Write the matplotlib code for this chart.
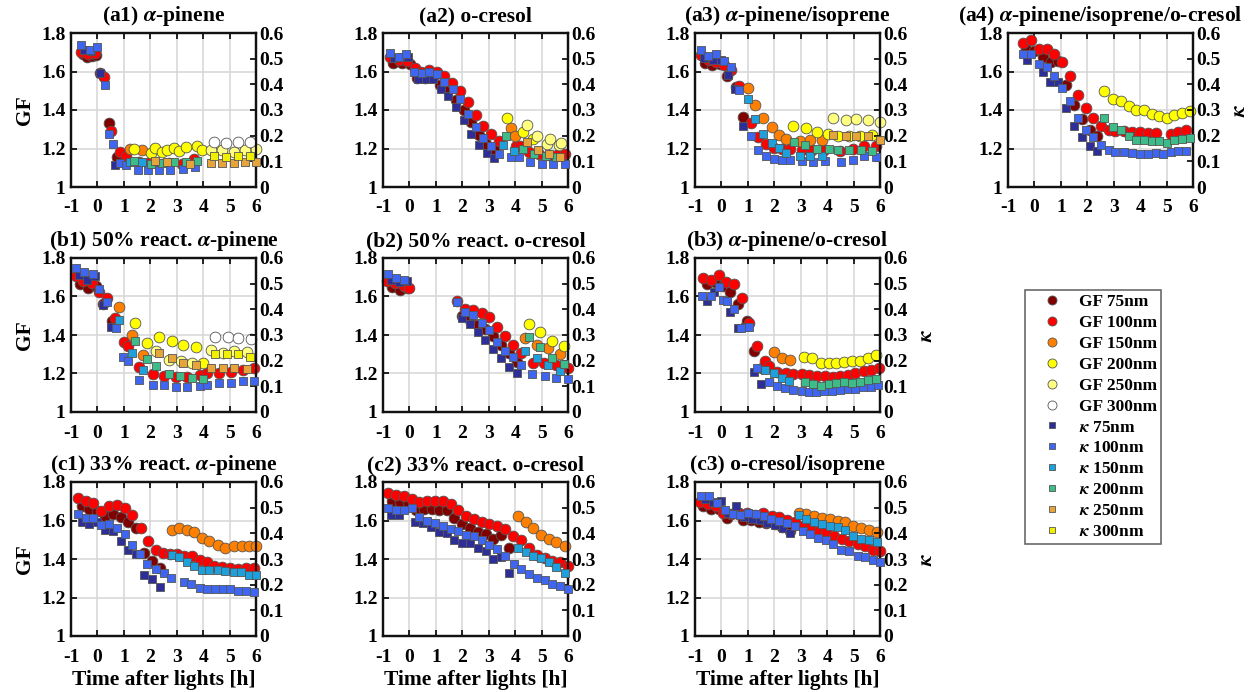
import matplotlib
matplotlib.use("Agg")
import matplotlib.pyplot as plt
from matplotlib.lines import Line2D

plt.rcParams["font.family"] = "serif"
plt.rcParams["font.serif"] = ["Liberation Serif", "DejaVu Serif"]
plt.rcParams["font.weight"] = "bold"
plt.rcParams["mathtext.fontset"] = "stix"
plt.rcParams["axes.unicode_minus"] = False

# ---- data: each series is (time [h], value); GF on left axis, kappa on right ----
A1 = {
    "GF75": ([-0.55, -0.4, -0.2, -0.05, 0.1, 0.42, 0.74],
             [1.69, 1.675, 1.68, 1.685, 1.59, 1.335, 1.155]),
    "GF100": ([-0.62, -0.35, -0.1, 0.25, 0.51, 0.86, 1.09, 1.56, 1.9, 2.3, 2.7, 3.2, 3.65],
              [1.70, 1.69, 1.695, 1.57, 1.29, 1.18, 1.163, 1.13, 1.125, 1.12, 1.125, 1.12, 1.146]),
    "GF150": ([1.24, 1.69], [1.198, 1.194]),
    "GF200": ([1.39, 2.03, 2.19, 2.45, 2.64, 2.89, 3.08, 3.37, 3.78, 3.97],
              [1.198, 1.177, 1.203, 1.18, 1.194, 1.205, 1.187, 1.21, 1.215, 1.19]),
    "GF250": ([4.29, 4.73, 5.17, 5.6, 6.0], [1.19, 1.19, 1.184, 1.19, 1.198]),
    "GF300": ([4.42, 4.88, 5.3, 5.77], [1.232, 1.229, 1.236, 1.236]),
    "K75": ([-0.5, -0.25, 0.1, 0.67], [0.535, 0.53, 0.443, 0.087]),
    "K100": ([-0.63, -0.28, -0.02, 0.27, 0.42, 0.58, 0.86, 1.09, 1.53, 1.9, 2.33, 2.76, 3.22, 3.68],
             [0.555, 0.535, 0.545, 0.397, 0.206, 0.168, 0.093, 0.084, 0.065, 0.068, 0.067, 0.068, 0.071, 0.077]),
    "K150": ([1.24, 1.69], [0.099, 0.099]),
    "K200": ([1.39, 2.03, 2.45, 2.89, 3.37, 3.78], [0.1, 0.088, 0.093, 0.099, 0.097, 0.103]),
    "K250": ([2.19, 2.64, 3.5, 4.29, 4.73, 5.17, 5.6, 6.0],
             [0.1, 0.097, 0.088, 0.093, 0.093, 0.094, 0.097, 0.099]),
    "K300": ([4.42, 4.88, 5.3, 5.77], [0.12, 0.115, 0.12, 0.119]),
}

A2 = {
    "GF75": ([-0.63, -0.29, 0.03, 0.28, 0.59, 0.9, 1.15, 1.46, 1.75, 2.05, 2.34, 2.63, 2.9, 3.21],
             [1.644, 1.644, 1.64, 1.566, 1.566, 1.57, 1.53, 1.506, 1.454, 1.40, 1.336, 1.27, 1.225, 1.197]),
    "GF100": ([-0.73, -0.41, -0.1, 0.2, 0.45, 0.74, 1.03, 1.3, 1.61, 1.9, 2.21, 2.5, 2.8, 3.09, 3.4,
               4.05, 4.19, 4.53, 4.9, 5.28, 5.6, 5.88],
              [1.675, 1.66, 1.655, 1.62, 1.595, 1.61, 1.60, 1.578, 1.54, 1.50, 1.44, 1.376, 1.319, 1.275, 1.237,
               1.215, 1.215, 1.18, 1.173, 1.166, 1.168, 1.17]),
    "GF150": ([3.85, 4.0], [1.305, 1.265]),
    "GF200": ([3.71, 4.28, 4.66], [1.358, 1.284, 1.249]),
    "GF250": ([4.43, 4.84, 5.2, 5.3, 5.65, 5.75], [1.324, 1.267, 1.225, 1.25, 1.22, 1.23]),
    "K75": ([-0.58, -0.3, -0.04, 0.34, 0.61, 0.88, 1.18, 1.45, 1.75, 2.05, 2.34, 2.63, 2.93, 3.21],
            [0.503, 0.505, 0.507, 0.42, 0.42, 0.42, 0.382, 0.356, 0.312, 0.262, 0.208, 0.165, 0.132, 0.113]),
    "K100": ([-0.73, -0.41, -0.13, 0.18, 0.46, 0.75, 1.03, 1.31, 1.63, 1.9, 2.21, 2.5, 2.8, 3.09, 3.4,
              3.84, 4.15, 4.55, 5.0, 5.44, 5.9],
             [0.522, 0.507, 0.518, 0.45, 0.444, 0.45, 0.44, 0.41, 0.38, 0.343, 0.284, 0.234, 0.191, 0.158, 0.13,
              0.117, 0.116, 0.096, 0.091, 0.091, 0.091]),
    "K150": ([3.55, 3.96], [0.165, 0.139]),
    "K200": ([3.65, 4.28, 4.71, 5.15, 5.55], [0.2, 0.148, 0.13, 0.122, 0.116]),
    "K250": ([4.43, 4.86, 5.28, 5.68], [0.174, 0.145, 0.128, 0.117]),
}

A3 = {
    "GF75": ([-0.63, -0.34, -0.07, 0.21, 0.56, 0.83], [1.644, 1.636, 1.64, 1.578, 1.52, 1.364]),
    "GF100": ([-0.79, -0.46, -0.19, 0.08, 0.37, 0.66, 1.12, 1.4, 1.68, 1.99, 2.3, 2.61, 3.05, 3.42, 3.9,
               4.48, 4.98, 5.41, 5.85],
              [1.688, 1.66, 1.648, 1.636, 1.61, 1.527, 1.33, 1.26, 1.223, 1.203, 1.197, 1.197, 1.194, 1.194,
               1.19, 1.185, 1.2, 1.215, 1.215]),
    "GF150": ([0.99, 1.27, 1.58, 1.9, 2.19, 2.46, 2.96, 3.37, 3.81],
              [1.514, 1.428, 1.358, 1.31, 1.272, 1.25, 1.24, 1.246, 1.243]),
    "GF200": ([2.71, 3.2, 3.62, 4.05, 4.4, 4.82, 5.23, 5.69],
              [1.319, 1.307, 1.286, 1.277, 1.267, 1.267, 1.267, 1.272]),
    "GF250": ([4.24, 4.7, 5.11, 5.55, 6.0], [1.358, 1.346, 1.353, 1.35, 1.338]),
    "K75": ([-0.66, -0.32, -0.03, 0.25, 0.52, 0.81], [0.503, 0.496, 0.494, 0.437, 0.382, 0.239]),
    "K100": ([-0.79, -0.5, -0.22, 0.08, 0.37, 0.66, 1.12, 1.4, 1.68, 1.99, 2.3, 2.58, 3.05, 3.48, 3.92,
              4.52, 4.98, 5.41, 5.85],
             [0.535, 0.512, 0.519, 0.49, 0.468, 0.377, 0.197, 0.143, 0.122, 0.109, 0.107, 0.107, 0.1, 0.096,
              0.1, 0.097, 0.107, 0.119, 0.116]),
    "K150": ([0.99, 1.27, 1.58, 1.9, 2.19, 2.46, 2.96, 3.37, 3.81],
             [0.343, 0.265, 0.208, 0.171, 0.152, 0.132, 0.12, 0.122, 0.122]),
    "K200": ([2.73, 3.17, 3.62, 4.07, 4.42, 4.82, 5.27, 5.69],
             [0.174, 0.164, 0.148, 0.148, 0.146, 0.143, 0.143, 0.139]),
    "K250": ([4.24, 4.7, 5.11, 5.55, 6.0], [0.204, 0.197, 0.197, 0.197, 0.184]),
}

A4 = {
    "GF75": ([-0.31, 0.0, 0.34, 0.63, 0.91, 1.19, 1.5, 1.79, 2.09, 2.38],
             [1.717, 1.705, 1.675, 1.648, 1.653, 1.532, 1.428, 1.353, 1.298, 1.263]),
    "GF100": ([-0.44, -0.13, 0.19, 0.46, 0.75, 1.04, 1.35, 1.63, 1.94, 2.21, 2.53, 2.81, 3.06, 3.38, 3.69,
               4.0, 4.29, 4.59, 5.15, 5.44, 5.75],
              [1.748, 1.762, 1.717, 1.717, 1.693, 1.648, 1.578, 1.48, 1.41, 1.359, 1.319, 1.294, 1.293, 1.289,
               1.286, 1.284, 1.28, 1.28, 1.275, 1.284, 1.294]),
    "GF200": ([2.65, 2.96, 3.28, 3.56, 3.85, 4.15, 4.44, 4.71, 5.0, 5.29, 5.6, 5.9],
              [1.497, 1.457, 1.445, 1.423, 1.398, 1.398, 1.381, 1.371, 1.359, 1.376, 1.385, 1.397]),
    "K75": ([-0.29, 0.31, 0.6, 0.9, 1.19, 1.5, 1.79, 2.09, 2.38],
            [0.496, 0.447, 0.408, 0.41, 0.308, 0.239, 0.195, 0.158, 0.139]),
    "K100": ([-0.44, -0.13, 0.19, 0.46, 0.75, 1.04, 1.35, 1.63, 1.94, 2.21, 2.53, 2.81, 3.06, 3.38, 3.69,
              4.0, 4.29, 4.59, 4.88, 5.15, 5.44, 5.75],
             [0.52, 0.52, 0.48, 0.468, 0.434, 0.386, 0.334, 0.27, 0.223, 0.195, 0.162, 0.145, 0.136, 0.135,
              0.132, 0.13, 0.13, 0.132, 0.13, 0.136, 0.139, 0.142]),
    "K200": ([2.65, 2.96, 3.28, 3.56, 3.85, 4.15, 4.44, 4.71, 5.0, 5.29, 5.6, 5.9],
             [0.269, 0.232, 0.223, 0.2, 0.182, 0.182, 0.178, 0.178, 0.171, 0.182, 0.187, 0.191]),
}

B1 = {
    "GF75": ([-0.66, -0.34, -0.05, 0.22, 0.54], [1.666, 1.643, 1.652, 1.562, 1.475]),
    "GF100": ([-0.81, -0.53, -0.22, 0.07, 0.37, 0.66, 1.0, 1.17, 1.56, 2.09, 2.52, 2.97, 3.4, 3.88, 4.16,
               4.6, 5.04, 5.49, 5.92],
              [1.708, 1.678, 1.67, 1.621, 1.591, 1.487, 1.365, 1.343, 1.235, 1.197, 1.188, 1.183, 1.183,
               1.191, 1.2, 1.203, 1.209, 1.22, 1.226]),
    "GF150": ([0.83, 1.3, 1.74], [1.543, 1.4, 1.296]),
    "GF200": ([1.42, 1.86, 2.34, 2.82, 3.25, 3.72, 4.0], [1.461, 1.36, 1.391, 1.371, 1.346, 1.336, 1.256]),
    "GF250": ([2.22, 2.69, 3.15, 3.57, 4.28, 4.74, 5.18, 5.65],
              [1.318, 1.27, 1.266, 1.256, 1.322, 1.304, 1.318, 1.313]),
    "GF300": ([4.45, 4.95, 5.33, 5.8], [1.388, 1.388, 1.383, 1.379]),
    "K75": ([-0.68, -0.38, -0.1, 0.22, 0.51], [0.533, 0.515, 0.53, 0.416, 0.332]),
    "K100": ([-0.81, -0.51, -0.18, 0.07, 0.37, 0.69, 0.98, 1.14, 1.59, 2.09, 2.52, 2.97, 3.4, 3.88, 4.13,
              4.6, 5.04, 5.49, 5.92],
             [0.561, 0.544, 0.538, 0.479, 0.43, 0.326, 0.215, 0.199, 0.124, 0.107, 0.104, 0.098, 0.098,
              0.101, 0.107, 0.114, 0.114, 0.121, 0.121]),
    "K150": ([0.83, 1.3, 1.74], [0.36, 0.23, 0.163]),
    "K200": ([1.42, 1.86, 2.22, 2.69, 3.13, 3.57, 4.0], [0.277, 0.208, 0.178, 0.147, 0.14, 0.133, 0.13]),
    "K250": ([2.34, 2.82, 3.25, 3.72, 4.28, 4.74, 5.18, 5.65],
             [0.23, 0.212, 0.189, 0.182, 0.173, 0.173, 0.173, 0.169]),
    "K300": ([4.45, 4.92, 5.33, 5.77], [0.225, 0.225, 0.225, 0.215]),
}

B2 = {
    "GF75": ([-0.66, -0.35, -0.08, 1.98, 2.29, 2.58, 2.86, 3.17, 3.48, 3.77, 4.08],
             [1.649, 1.635, 1.645, 1.499, 1.478, 1.452, 1.43, 1.395, 1.348, 1.304, 1.261]),
    "GF100": ([-0.85, -0.54, -0.22, -0.03, 1.81, 2.1, 2.42, 2.73, 3.02, 3.3, 3.61, 3.9, 4.21, 4.68, 5.1,
               5.56, 6.0],
              [1.683, 1.67, 1.656, 1.643, 1.579, 1.534, 1.53, 1.513, 1.492, 1.443, 1.395, 1.348, 1.304, 1.256,
               1.252, 1.244, 1.231]),
    "GF150": ([4.36, 4.83, 5.24, 5.68], [1.386, 1.348, 1.33, 1.301]),
    "GF200": ([4.53, 4.95, 5.39, 5.85], [1.457, 1.417, 1.369, 1.343]),
    "K75": ([-0.69, -0.38, -0.1, 1.98, 2.29, 2.58, 2.86, 3.17, 3.48, 3.77, 4.08],
            [0.513, 0.505, 0.51, 0.365, 0.343, 0.313, 0.28, 0.244, 0.209, 0.176, 0.153]),
    "K100": ([-0.81, -0.5, -0.22, 1.81, 2.1, 2.42, 2.73, 3.02, 3.32, 3.61, 3.9, 4.24, 4.65, 5.12, 5.56, 6.0],
             [0.539, 0.522, 0.513, 0.43, 0.391, 0.378, 0.348, 0.32, 0.274, 0.239, 0.213, 0.183, 0.15, 0.141,
              0.134, 0.128]),
    "K150": ([4.36, 4.83, 5.24, 5.68], [0.239, 0.209, 0.183, 0.16]),
    "K200": ([4.53, 4.95, 5.39, 5.85], [0.293, 0.254, 0.209, 0.187]),
}

B3 = {
    "GF75": ([-0.56, -0.25, 0.06, 0.34, 0.63, 0.96, 1.25, 1.54],
             [1.666, 1.673, 1.652, 1.621, 1.562, 1.475, 1.317, 1.23]),
    "GF100": ([-0.69, -0.4, -0.1, 0.19, 0.48, 0.78, 1.06, 1.35, 1.65, 1.81, 2.1, 2.44, 2.71, 3.04, 3.31,
               3.63, 3.91, 4.21, 4.5, 4.79, 5.06, 5.38, 5.66, 5.96],
              [1.696, 1.687, 1.713, 1.675, 1.664, 1.591, 1.464, 1.343, 1.266, 1.238, 1.209, 1.2, 1.195, 1.195,
               1.191, 1.186, 1.186, 1.183, 1.188, 1.191, 1.203, 1.214, 1.217, 1.231]),
    "GF150": ([2.0, 2.31, 2.59], [1.313, 1.282, 1.27]),
    "GF200": ([3.13, 3.44, 3.75, 4.06, 4.34, 4.65, 4.94, 5.25, 5.54, 5.84],
              [1.287, 1.278, 1.252, 1.257, 1.257, 1.261, 1.264, 1.264, 1.282, 1.296]),
    "K75": ([-0.56, -0.29, 0.31, 0.63, 0.91, 1.22, 1.5], [0.434, 0.466, 0.391, 0.329, 0.333, 0.157, 0.108]),
    "K100": ([-0.75, -0.41, -0.1, 0.06, 0.21, 0.48, 0.75, 1.06, 1.35, 1.81, 2.1, 2.41, 2.71, 3.04, 3.31,
              3.59, 3.88, 4.19, 4.48, 4.79, 5.06, 5.35, 5.65, 5.94],
             [0.45, 0.45, 0.487, 0.437, 0.433, 0.402, 0.329, 0.333, 0.17, 0.115, 0.1, 0.094, 0.085, 0.081,
              0.078, 0.076, 0.081, 0.082, 0.085, 0.089, 0.091, 0.098, 0.098, 0.104]),
    "K150": ([1.66, 1.98, 2.29, 2.56], [0.163, 0.153, 0.133, 0.12]),
    "K200": ([3.16, 3.46, 3.75, 4.06, 4.35, 4.63, 4.94, 5.23, 5.53, 5.84],
             [0.117, 0.108, 0.1, 0.108, 0.113, 0.117, 0.113, 0.115, 0.124, 0.13]),
}

C1 = {
    "GF75": ([-0.6, -0.31, 0.0, 0.29, 0.59, 0.88, 1.17, 1.47, 1.76, 2.07, 2.36],
             [1.673, 1.659, 1.648, 1.625, 1.636, 1.618, 1.59, 1.56, 1.431, 1.392, 1.354]),
    "GF100": ([-0.75, -0.44, -0.15, 0.15, 0.44, 0.73, 1.03, 1.32, 1.63, 1.91, 2.2, 2.49, 2.76, 3.02, 3.29,
               3.58, 3.87, 4.14, 4.42, 4.71, 5.0, 5.3, 5.62, 5.93],
              [1.717, 1.7, 1.69, 1.651, 1.676, 1.681, 1.664, 1.629, 1.559, 1.492, 1.448, 1.431, 1.427, 1.424,
               1.418, 1.418, 1.397, 1.383, 1.366, 1.357, 1.352, 1.347, 1.352, 1.352]),
    "GF150": ([2.83, 3.1, 3.39, 3.67, 3.96, 4.24, 4.55, 4.83, 5.15, 5.46, 5.75, 6.0],
              [1.553, 1.559, 1.553, 1.541, 1.509, 1.492, 1.474, 1.458, 1.465, 1.465, 1.465, 1.465]),
    "K75": ([-0.6, -0.31, 0.0, 0.29, 0.59, 0.88, 1.17, 1.47, 1.76, 2.07, 2.36],
            [0.445, 0.438, 0.445, 0.412, 0.41, 0.372, 0.335, 0.319, 0.237, 0.221, 0.19]),
    "K100": ([-0.75, -0.44, -0.15, 0.15, 0.44, 0.73, 1.03, 1.32, 1.61, 1.89, 2.2, 2.51, 2.79, 3.26, 3.54,
              3.87, 4.14, 4.46, 4.75, 5.02, 5.31, 5.62, 5.93],
             [0.474, 0.458, 0.461, 0.432, 0.438, 0.421, 0.396, 0.356, 0.319, 0.28, 0.26, 0.244, 0.227, 0.211,
              0.201, 0.187, 0.185, 0.184, 0.184, 0.184, 0.175, 0.177, 0.172]),
    "K150": ([2.83, 3.1, 3.39, 3.67, 3.96, 4.24, 4.55, 4.83, 5.15, 5.42, 5.75, 6.0],
             [0.317, 0.307, 0.29, 0.271, 0.258, 0.257, 0.257, 0.254, 0.251, 0.251, 0.238, 0.238]),
}

C2 = {
    "GF75": ([-0.66, -0.35, -0.06, 0.26, 0.56, 0.85, 1.12, 1.41, 1.69, 2.0, 2.29, 2.61, 2.89, 3.17, 3.46, 3.76],
             [1.70, 1.694, 1.694, 1.652, 1.66, 1.659, 1.652, 1.655, 1.611, 1.582, 1.559, 1.541, 1.529, 1.502,
              1.523, 1.456]),
    "GF100": ([-0.81, -0.5, -0.2, 0.09, 0.38, 0.68, 0.97, 1.26, 1.56, 1.85, 2.14, 2.44, 2.73, 3.02, 3.32,
               3.61, 3.92, 4.24, 4.53, 4.83, 5.12, 5.41, 5.71, 6.0],
              [1.744, 1.735, 1.726, 1.714, 1.694, 1.7, 1.703, 1.7, 1.688, 1.652, 1.624, 1.606, 1.594, 1.58,
               1.573, 1.555, 1.52, 1.497, 1.458, 1.423, 1.403, 1.391, 1.382, 1.365]),
    "GF150": ([4.11, 4.4, 4.68, 4.97, 5.27, 5.56, 5.87], [1.624, 1.594, 1.559, 1.527, 1.506, 1.488, 1.465]),
    "K75": ([-0.69, -0.38, 0.22, 0.53, 0.82, 1.1, 1.41, 1.7, 2.0, 2.29, 2.61, 2.89, 3.17, 3.46, 3.76],
            [0.472, 0.472, 0.446, 0.439, 0.426, 0.406, 0.402, 0.375, 0.362, 0.362, 0.344, 0.331, 0.3, 0.307,
             0.247]),
    "K100": ([-0.81, -0.5, -0.22, 0.09, 0.38, 0.68, 0.97, 1.26, 1.56, 1.85, 2.14, 2.44, 2.73, 3.02, 3.32,
              3.61, 3.95, 4.24, 4.53, 4.83, 5.12, 5.41, 5.71, 6.0],
             [0.498, 0.489, 0.492, 0.498, 0.463, 0.449, 0.439, 0.428, 0.416, 0.41, 0.393, 0.391, 0.373, 0.353,
              0.34, 0.311, 0.281, 0.26, 0.243, 0.225, 0.217, 0.201, 0.194, 0.185]),
    "K150": ([4.11, 4.4, 4.68, 4.97, 5.27, 5.56, 5.87], [0.344, 0.326, 0.313, 0.304, 0.287, 0.267, 0.247]),
}

C3 = {
    "GF75": ([-0.69, -0.4, -0.1, 0.22, 0.51, 0.82, 1.11, 1.41, 1.7, 2.02, 2.3, 2.58],
             [1.673, 1.659, 1.659, 1.611, 1.641, 1.602, 1.602, 1.594, 1.585, 1.582, 1.568, 1.547]),
    "GF100": ([-0.81, -0.5, -0.21, 0.07, 0.38, 0.67, 0.97, 1.26, 1.58, 1.92, 2.18, 2.48, 2.77, 3.08, 3.36,
               3.68, 3.96, 4.25, 4.55, 4.84, 5.16, 5.44, 5.72, 6.0],
              [1.694, 1.687, 1.673, 1.641, 1.634, 1.638, 1.638, 1.629, 1.638, 1.624, 1.62, 1.602, 1.594, 1.571,
               1.559, 1.545, 1.541, 1.518, 1.506, 1.492, 1.479, 1.465, 1.449, 1.44]),
    "GF150": ([2.93, 3.21, 3.5, 3.8, 4.11, 4.4, 4.69, 4.99, 5.28, 5.57, 5.87],
              [1.641, 1.632, 1.624, 1.615, 1.606, 1.599, 1.59, 1.571, 1.559, 1.55, 1.541]),
    "K75": ([-0.62, -0.31, -0.02, 0.26, 0.57, 0.85, 1.15, 1.45, 1.74, 2.04, 2.32, 2.6],
            [0.534, 0.521, 0.525, 0.481, 0.508, 0.465, 0.455, 0.452, 0.442, 0.432, 0.419, 0.402]),
    "K100": ([-0.79, -0.47, -0.18, 0.13, 0.42, 0.7, 1.01, 1.3, 1.6, 1.89, 2.18, 2.48, 2.77, 3.08, 3.37,
              3.65, 3.94, 4.24, 4.53, 4.84, 5.16, 5.44, 5.72, 6.0],
             [0.547, 0.545, 0.518, 0.492, 0.476, 0.472, 0.481, 0.476, 0.468, 0.455, 0.449, 0.439, 0.428, 0.41,
              0.399, 0.383, 0.375, 0.357, 0.336, 0.33, 0.313, 0.309, 0.296, 0.287]),
    "K150": ([2.93, 3.21, 3.52, 3.81, 4.11, 4.4, 4.69, 4.99, 5.28, 5.6, 5.87],
             [0.472, 0.456, 0.446, 0.436, 0.428, 0.423, 0.412, 0.389, 0.377, 0.373, 0.366]),
}

SIZES = ["75", "100", "150", "200", "250", "300"]
GF_COLORS = ["#800000", "#ff0000", "#ff8000", "#ffff00", "#ffff80", "#ffffff"]
K_COLORS = ["#2e2e99", "#3f66f0", "#1ea0dc", "#3dbb88", "#e6a53a", "#f0f000"]
EDGE = "#555555"

# panel layout in pixels (left, top) of the axes box
COL_X = [71, 383, 695, 1008]
ROW_Y = [33, 258, 482]
AX_W, AX_H = 185, 154
W, H = 1255, 692

PANELS = [
    (0, 0, r"(a1) $\alpha$-pinene", A1),
    (0, 1, "(a2) o-cresol", A2),
    (0, 2, r"(a3) $\alpha$-pinene/isoprene", A3),
    (0, 3, r"(a4) $\alpha$-pinene/isoprene/o-cresol", A4),
    (1, 0, r"(b1) 50% react. $\alpha$-pinene", B1),
    (1, 1, "(b2) 50% react. o-cresol", B2),
    (1, 2, r"(b3) $\alpha$-pinene/o-cresol", B3),
    (2, 0, r"(c1) 33% react. $\alpha$-pinene", C1),
    (2, 1, "(c2) 33% react. o-cresol", C2),
    (2, 2, "(c3) o-cresol/isoprene", C3),
]
RIGHT_LABEL = {(0, 3), (1, 2), (2, 2)}

TICK_FS = 14
LABEL_FS = 15.5
TITLE_FS = 15.5


def draw_panel(fig, row, col, title, data):
    rect = [COL_X[col] / W, (H - ROW_Y[row] - AX_H) / H, AX_W / W, AX_H / H]
    ax = fig.add_axes(rect)
    ax2 = ax.twinx()

    for s, c in zip(SIZES, GF_COLORS):
        key = "GF" + s
        if key in data:
            t, v = data[key]
            ax.scatter(t, v, s=60, marker="o", facecolor=c, edgecolor=EDGE,
                       linewidth=0.6, zorder=3, clip_on=False)
    for s, c in zip(SIZES, K_COLORS):
        key = "K" + s
        if key in data:
            t, v = data[key]
            ax2.scatter(t, v, s=34, marker="s", facecolor=c, edgecolor=EDGE,
                        linewidth=0.6, zorder=3, clip_on=False)

    ax.set_xlim(-1, 6)
    ax.set_ylim(1, 1.8)
    ax2.set_ylim(0, 0.6)
    ax.set_xticks(range(-1, 7))
    ax.set_yticks([1, 1.2, 1.4, 1.6, 1.8])
    ax.set_yticklabels(["1", "1.2", "1.4", "1.6", "1.8"])
    ax2.set_yticks([0, 0.1, 0.2, 0.3, 0.4, 0.5, 0.6])
    ax2.set_yticklabels(["0", "0.1", "0.2", "0.3", "0.4", "0.5", "0.6"])

    ax.grid(True, color="#d6d6d6", linewidth=1.1, zorder=0)
    ax.set_axisbelow(True)
    ax.tick_params(axis="x", direction="in", length=4, width=1.2,
                   labelsize=TICK_FS, top=True, pad=9)
    ax.tick_params(axis="y", direction="in", length=4, width=1.2,
                   labelsize=TICK_FS, right=False, pad=4)
    ax2.tick_params(axis="y", direction="in", length=4, width=1.2,
                    labelsize=TICK_FS, pad=2)
    for a in (ax, ax2):
        for sp in a.spines.values():
            sp.set_linewidth(1.6)
            sp.set_color("#111111")

    # titles sit a little higher so they clear the top tick labels
    ax.set_title(title, fontsize=TITLE_FS, fontweight="bold", pad=8.5)
    if col == 0:
        ax.set_ylabel("GF", fontsize=LABEL_FS, fontweight="bold", labelpad=4)
    if row == 2:
        ax.set_xlabel("Time after lights [h]", fontsize=LABEL_FS, fontweight="bold", labelpad=3)
    if (row, col) in RIGHT_LABEL:
        ax2.set_ylabel(r"$\kappa$", fontsize=LABEL_FS, labelpad=8)
    return ax


fig = plt.figure(figsize=(W / 100, H / 100), dpi=100)
for row, col, title, data in PANELS:
    draw_panel(fig, row, col, title, data)

handles = []
labels = []
for s, c in zip(SIZES, GF_COLORS):
    handles.append(Line2D([], [], marker="o", linestyle="", markersize=6.5,
                          markerfacecolor=c, markeredgecolor=EDGE, markeredgewidth=0.6))
    labels.append(f"GF {s}nm")
for s, c in zip(SIZES, K_COLORS):
    handles.append(Line2D([], [], marker="s", linestyle="", markersize=5,
                          markerfacecolor=c, markeredgecolor=EDGE, markeredgewidth=0.6))
    labels.append(rf"$\kappa$ {s}nm")

leg = fig.legend(handles, labels, loc="upper left",
                 bbox_to_anchor=(1025 / W, 1 - 290 / H), borderaxespad=0,
                 frameon=True, fancybox=False, edgecolor="#444444",
                 prop={"size": 12.5, "weight": "bold"},
                 labelspacing=0.27, handletextpad=0.25, borderpad=0.25,
                 handlelength=2.6)
leg.get_frame().set_linewidth(1.2)

fig.savefig("out.png", dpi=100)
